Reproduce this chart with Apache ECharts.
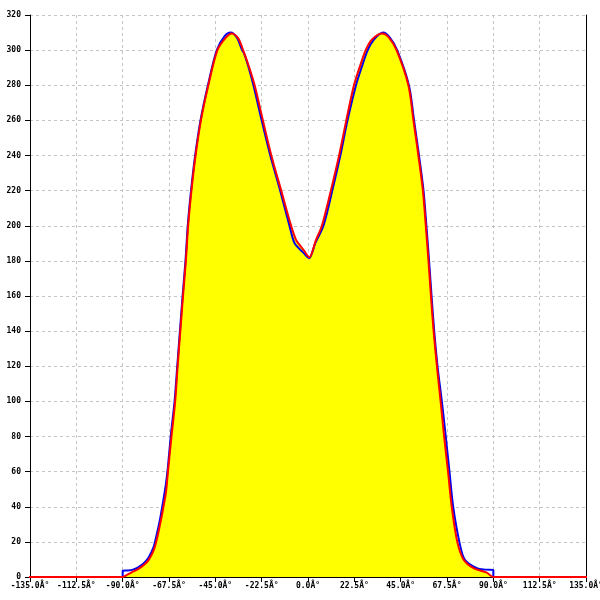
<!DOCTYPE html>
<html><head><meta charset="utf-8">
<script src="https://cdn.jsdelivr.net/npm/echarts@6/dist/echarts.min.js"></script>
<style>html,body{margin:0;padding:0;background:#fff;overflow:hidden}#c{width:600px;height:600px}</style>
</head><body><div id="c"></div>
<script>
const xTicks = [-135, -112.5, -90, -67.5, -45, -22.5, 0, 22.5, 45, 67.5, 90, 112.5, 135];
const xTickLabels = ['-135.0Â°','-112.5Â°','-90.0Â°','-67.5Â°','-45.0Â°','-22.5Â°','0.0Â°','22.5Â°','45.0Â°','67.5Â°','90.0Â°','112.5Â°','135.0Â°'];
const yTicks = [0,20,40,60,80,100,120,140,160,180,200,220,240,260,280,300,320];

const redDeg = [-150,-90,-87.5,-85,-82.5,-80,-77.5,-75,-73.5,-72,-70.5,-69,-68,-66.3,-64.5,-63.3,-62,-60.7,-59.3,-58.2,-56.6,-54.6,-52,-48.4,-44,-40,-37,-34,-31.5,-28.5,-25.9,-21.9,-17.8,-13,-8.2,-5.8,-4,-2,0.6,3.9,6.75,11.1,15.1,18.6,22.3,25,28,31,36,39,43,48.75,51.2,53.6,55.8,57.2,58.5,59.7,61,62.6,64.4,66.1,68,69.8,72.5,75.5,80.4,86.8,90,150];
const redVal = [0,0,1.5,3,4.5,6.5,9.5,15,21,29,38,48,60,80,100,120,140,160,180,200,220,240,260,280,300,307,309.5,307,300,290,280,260,240,220,200,192,189,186,182,192,200,220,240,260,280,290,300,306,309.5,307.5,300,280,260,240,220,200,180,160,140,120,100,80,60,40,20,10,5,2.5,0,0];

const blueDeg = [-90,-90,-87.5,-85,-82.5,-80,-77.5,-75,-73.5,-72,-70.5,-69,-68,-66.5,-64.8,-63.5,-62.2,-60.9,-59.5,-58.4,-56.8,-54.8,-52.2,-48.6,-44.3,-40.5,-37.5,-34.5,-32,-31,-28.8,-26.5,-22.5,-18.3,-13.5,-9,-6.5,-2.5,0.5,3.5,7.5,11.8,15.7,19.2,23.3,26,29,32,36.5,39.5,43.3,49,51.5,53.9,56.1,57.5,58.8,60,61.3,62.9,65,66.9,68.7,70.5,73.5,76.1,82,86,90,90];
const blueVal = [0,3.5,3.7,4.2,5.5,7.5,11,17,24,32,42,53,63,82,100,120,140,160,180,200,220,240,260,280,300,308,310,307,300,298,290,280,260,240,220,200,190,185,181.5,190,200,220,240,260,280,290,300,306,310,307.5,300,280,260,240,220,200,180,160,140,120,100,80,60,40,20,10,5,4.2,4,0];

const pair = (xs, ys) => xs.map((x, i) => [x, ys[i]]);
const redData = pair(redDeg, redVal);
const blueData = pair(blueDeg, blueVal);
const fillData = redData.filter(p => p[0] >= -90 && p[0] <= 90);

const chart = echarts.init(document.getElementById('c'), null, {renderer: 'canvas'});
const gridLine = {show: true, lineStyle: {color: '#c4c4c4', type: [3, 3], width: 1}};
const labelFont = {fontFamily: 'DejaVu Sans Mono', fontSize: 8, color: '#000', fontWeight: 'bold'};
chart.setOption({
  animation: false,
  backgroundColor: '#fff',
  grid: {left: 30, right: 14, top: 15, bottom: 23, containLabel: false, outerBoundsMode: 'none'},
  xAxis: {
    type: 'value', min: -135, max: 135, interval: 22.5,
    axisLine: {show: true, onZero: false, lineStyle: {color: '#000', width: 1}},
    axisTick: {show: true, length: 5, lineStyle: {color: '#000'}},
    axisLabel: Object.assign({margin: 5, showMinLabel: true, showMaxLabel: true, hideOverlap: false,
      formatter: v => { const i = xTicks.indexOf(v); return i >= 0 ? xTickLabels[i] : ''; }}, labelFont),
    splitLine: gridLine
  },
  yAxis: [{
    type: 'value', min: 0, max: 320, interval: 20,
    axisLine: {show: true, onZero: false, lineStyle: {color: '#000', width: 1}},
    axisTick: {show: true, length: 5, lineStyle: {color: '#000'}},
    axisLabel: Object.assign({margin: 9, formatter: v => yTicks.indexOf(v) >= 0 ? String(v) : ''}, labelFont),
    splitLine: gridLine
  }, {
    type: 'value', min: 0, max: 320, interval: 20, position: 'right',
    axisLine: {show: true, onZero: false, lineStyle: {color: '#000', width: 1}},
    axisTick: {show: false}, axisLabel: {show: false}, splitLine: {show: false}
  }],
  series: [
    {type: 'line', data: fillData, showSymbol: false, smooth: 0.3, lineStyle: {width: 0},
     areaStyle: {color: '#ffff00', opacity: 1}, z: 1},
    {type: 'line', data: blueData, showSymbol: false, smooth: 0.3,
     lineStyle: {color: '#0000ee', width: 2}, z: 2},
    {type: 'line', data: redData, showSymbol: false, smooth: 0.3, clip: false,
     lineStyle: {color: '#ff0000', width: 2}, z: 3}
  ]
});
</script></body></html>
